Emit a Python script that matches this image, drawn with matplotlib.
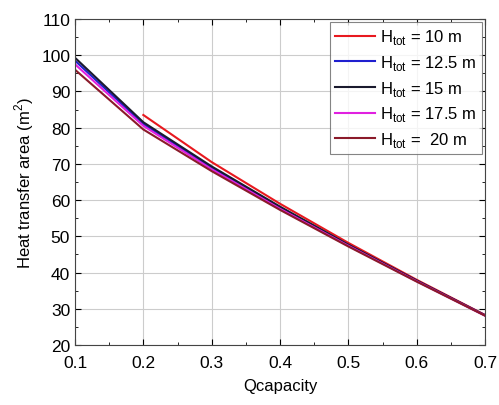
import matplotlib
matplotlib.use("Agg")
import matplotlib.pyplot as plt
from matplotlib.ticker import MultipleLocator

x_all = [0.1, 0.2, 0.3, 0.4, 0.5, 0.6, 0.7]
x_red = [0.2, 0.3, 0.4, 0.5, 0.6, 0.7]
h10 = [83.5, 70.5, 59.0, 48.2, 38.0, 28.3]
h125 = [98.5, 81.0, 69.0, 58.0, 47.6, 37.7, 28.2]
h15 = [99.3, 81.5, 69.3, 58.2, 47.7, 37.8, 28.2]
h175 = [97.5, 80.5, 68.5, 57.6, 47.4, 37.6, 28.1]
h20 = [96.0, 79.5, 68.0, 57.3, 47.2, 37.5, 28.1]
xticks = [0.1, 0.2, 0.3, 0.4, 0.5, 0.6, 0.7]
xticklabels = ["0.1", "0.2", "0.3", "0.4", "0.5", "0.6", "0.7"]

labels = [r"H$_{\rm tot}$ = 10 m", r"H$_{\rm tot}$ = 12.5 m", r"H$_{\rm tot}$ = 15 m",
          r"H$_{\rm tot}$ = 17.5 m", r"H$_{\rm tot}$ =  20 m"]
colors = ["#e8191f", "#1f1fcf", "#1a1a2e", "#e020e0", "#8b1a2a"]

plt.rcParams['font.family'] = ['Liberation Sans', 'DejaVu Sans']
plt.rcParams['mathtext.fontset'] = 'custom'
plt.rcParams['mathtext.rm'] = 'Liberation Sans'

fig = plt.figure(figsize=(4.99, 4.06), dpi=100)
ax = fig.add_axes([75/499, 1-346/406, (485-75)/499, (346-20)/406])

ax.plot(x_red, h10, color=colors[0], lw=1.5, label=labels[0])
ax.plot(x_all, h125, color=colors[1], lw=1.5, label=labels[1])
ax.plot(x_all, h15, color=colors[2], lw=1.5, label=labels[2])
ax.plot(x_all, h175, color=colors[3], lw=1.5, label=labels[3])
ax.plot(x_all, h20, color=colors[4], lw=1.5, label=labels[4])

ax.set_xlim(0.1, 0.7)
ax.set_ylim(20, 110)
ax.set_xticks(xticks)
ax.set_xticklabels(xticklabels)
ax.xaxis.set_minor_locator(MultipleLocator(0.05))
ax.yaxis.set_major_locator(MultipleLocator(10))
ax.yaxis.set_minor_locator(MultipleLocator(5))
ax.tick_params(which='both', direction='in', top=True, right=True, labelsize=12.5)
ax.tick_params(which='major', length=4)
ax.tick_params(which='minor', length=2)
ax.tick_params(axis='x', which='major', pad=7)
ax.grid(True, which='major', color='#cccccc', lw=0.8)
ax.set_axisbelow(True)
ax.set_xlabel("Qcapacity", fontsize=12, labelpad=6)
ax.set_ylabel(r"Heat transfer area (m$^2$)", fontsize=12)
for s in ax.spines.values():
    s.set_color('#444444')

leg = ax.legend(loc='upper right', fontsize=12, frameon=True, fancybox=False,
                edgecolor='#666666', handlelength=2.4, borderpad=0.3,
                labelspacing=0.4, handletextpad=0.3, borderaxespad=0.2)
leg.get_frame().set_linewidth(0.8)

fig.savefig("out.png", dpi=100)
